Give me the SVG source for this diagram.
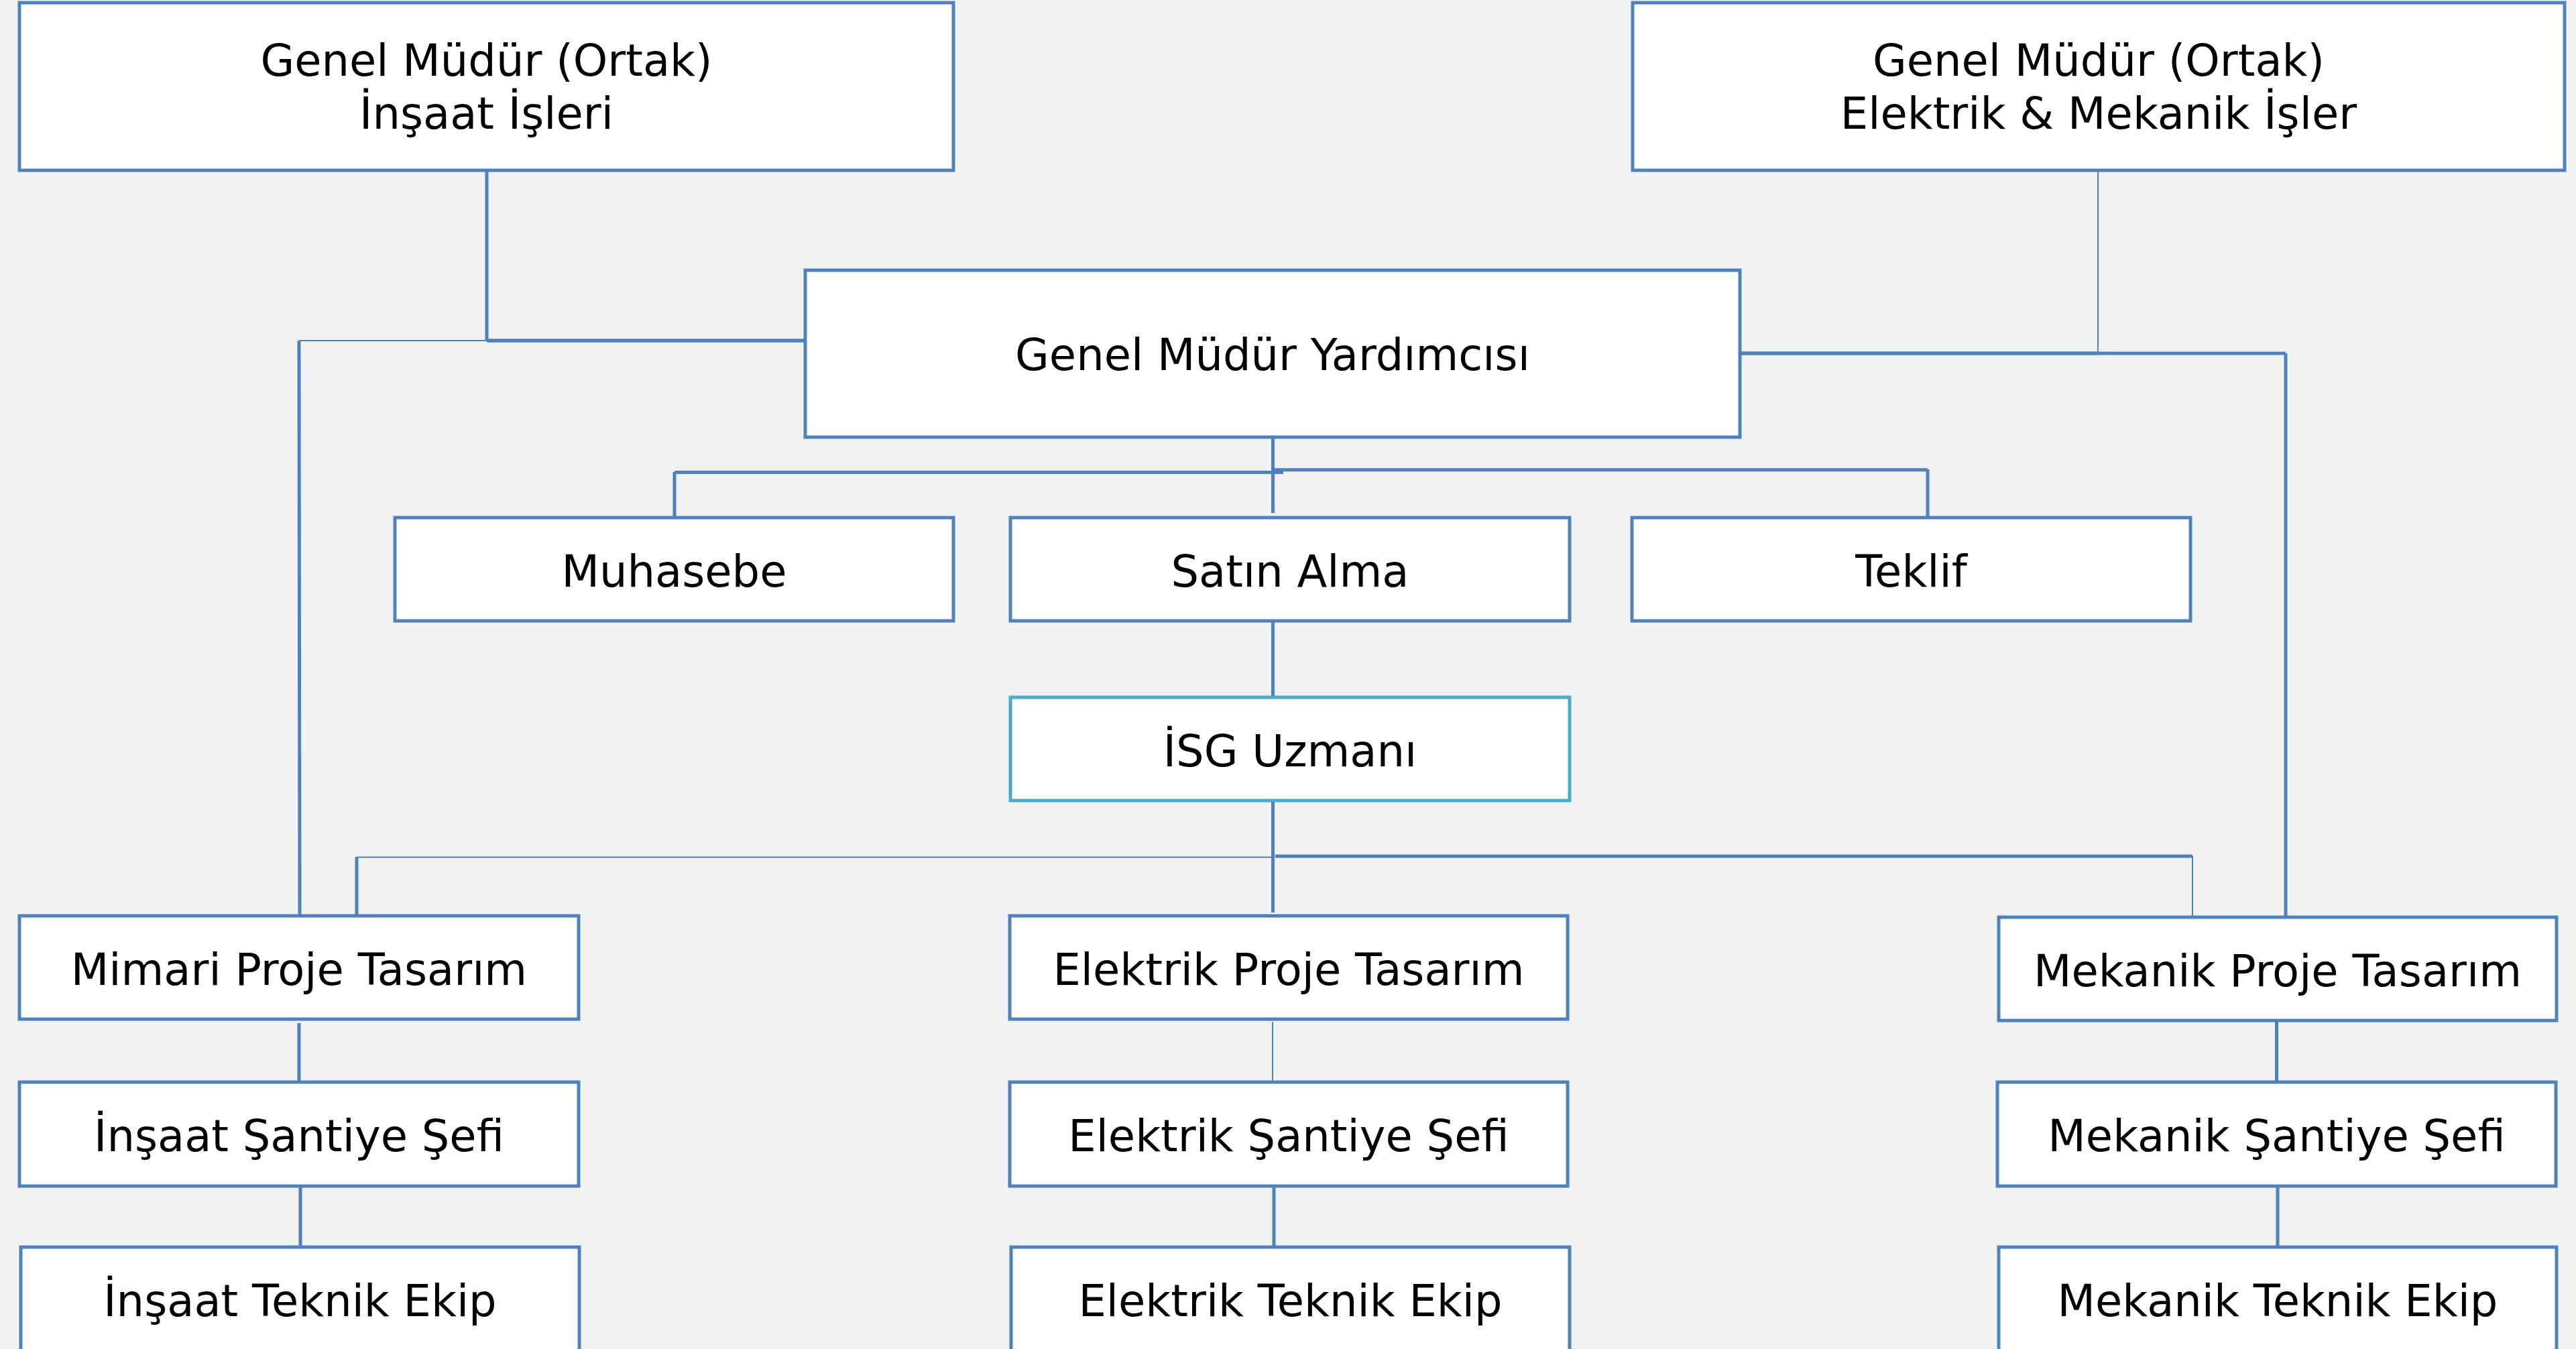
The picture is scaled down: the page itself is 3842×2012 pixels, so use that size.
<svg xmlns="http://www.w3.org/2000/svg" width="3842" height="2012" viewBox="0 0 3842 2012">
<style>
.box{fill:#FFFFFF;stroke:#4F81BD;stroke-width:5}
.isg{fill:#FFFFFF;stroke:#4BACC6;stroke-width:5}
.t{font-family:"DejaVu Sans","Verdana","Liberation Sans",sans-serif;font-size:65.5px;fill:#000000;text-anchor:middle}
.c{fill:none;stroke:#4F81BD}
.thick{stroke-width:5.5}
.mid{stroke-width:5}
.thin{stroke-width:2}
</style>
<rect x="0" y="0" width="3842" height="2012" fill="#F2F2F2"/>
<g id="connectors">
<line class="c mid" x1="726" y1="254" x2="726" y2="508"/>
<line class="c thick" x1="726" y1="508" x2="1201" y2="508"/>
<line class="c thin" x1="446" y1="508" x2="726" y2="508"/>
<line class="c mid" x1="446" y1="508" x2="447" y2="1366"/>
<line class="c thin" x1="3129" y1="254" x2="3129" y2="527"/>
<line class="c thick" x1="2595" y1="527" x2="3129" y2="527"/>
<line class="c mid" x1="3129" y1="527" x2="3409" y2="527"/>
<line class="c mid" x1="3409" y1="527" x2="3409" y2="1368"/>
<line class="c mid" x1="1898.5" y1="652" x2="1898.5" y2="765"/>
<line class="c mid" x1="1006" y1="704.5" x2="1914" y2="704.5"/>
<line class="c mid" x1="1006" y1="704" x2="1006" y2="772"/>
<line class="c mid" x1="1898" y1="700.8" x2="2875" y2="700.8"/>
<line class="c mid" x1="2875" y1="700" x2="2875" y2="772"/>
<line class="c mid" x1="1898.5" y1="926" x2="1898.5" y2="1040"/>
<line class="c mid" x1="1898.5" y1="1194" x2="1898.5" y2="1361"/>
<line class="c thin" x1="532" y1="1278.5" x2="1898" y2="1278.5"/>
<line class="c mid" x1="532" y1="1278" x2="532" y2="1366"/>
<line class="c mid" x1="1902" y1="1277" x2="3270" y2="1277"/>
<line class="c thin" x1="3270" y1="1277" x2="3270" y2="1368"/>
<line class="c mid" x1="446" y1="1526" x2="446" y2="1619"/>
<line class="c mid" x1="448" y1="1769" x2="448" y2="1867"/>
<line class="c thin" x1="1898" y1="1524" x2="1898" y2="1618"/>
<line class="c mid" x1="1900" y1="1769" x2="1900" y2="1866"/>
<line class="c mid" x1="3395.5" y1="1522" x2="3395.5" y2="1615"/>
<line class="c mid" x1="3397" y1="1769" x2="3397" y2="1860"/>
</g>
<g id="gm-insaat">
<rect class="box" x="29" y="4" width="1393" height="250"/>
<text class="t" x="725.5" y="113">Genel Müdür (Ortak)</text>
<text class="t" x="725.5" y="192">İnşaat İşleri</text>
</g>
<g id="gm-elektrik-mekanik">
<rect class="box" x="2435" y="4" width="1390" height="250"/>
<text class="t" x="3130" y="113">Genel Müdür (Ortak)</text>
<text class="t" x="3130" y="192">Elektrik &amp; Mekanik İşler</text>
</g>
<g id="gm-yardimcisi">
<rect class="box" x="1201" y="403" width="1394" height="249"/>
<text class="t" x="1898" y="552">Genel Müdür Yardımcısı</text>
</g>
<g id="muhasebe">
<rect class="box" x="589" y="772" width="833" height="154"/>
<text class="t" x="1005.5" y="875">Muhasebe</text>
</g>
<g id="satin-alma">
<rect class="box" x="1507" y="772" width="834" height="154"/>
<text class="t" x="1924" y="875">Satın Alma</text>
</g>
<g id="teklif">
<rect class="box" x="2434" y="772" width="833" height="154"/>
<text class="t" x="2850.5" y="875">Teklif</text>
</g>
<g id="isg-uzmani">
<rect class="isg" x="1507" y="1040" width="834" height="154"/>
<text class="t" x="1924" y="1143">İSG Uzmanı</text>
</g>
<g id="mimari-proje">
<rect class="box" x="29" y="1366" width="834" height="154"/>
<text class="t" x="446" y="1469">Mimari Proje Tasarım</text>
</g>
<g id="elektrik-proje">
<rect class="box" x="1506" y="1366" width="832" height="154"/>
<text class="t" x="1922" y="1469">Elektrik Proje Tasarım</text>
</g>
<g id="mekanik-proje">
<rect class="box" x="2981" y="1368" width="832" height="154"/>
<text class="t" x="3397" y="1471">Mekanik Proje Tasarım</text>
</g>
<g id="insaat-santiye">
<rect class="box" x="29" y="1614" width="834" height="155"/>
<text class="t" x="446" y="1717">İnşaat Şantiye Şefi</text>
</g>
<g id="elektrik-santiye">
<rect class="box" x="1506" y="1614" width="832" height="155"/>
<text class="t" x="1922" y="1717">Elektrik Şantiye Şefi</text>
</g>
<g id="mekanik-santiye">
<rect class="box" x="2979" y="1614" width="833" height="155"/>
<text class="t" x="3395.5" y="1717">Mekanik Şantiye Şefi</text>
</g>
<g id="insaat-teknik">
<rect class="box" x="31" y="1860" width="833" height="170"/>
<text class="t" x="447.5" y="1963">İnşaat Teknik Ekip</text>
</g>
<g id="elektrik-teknik">
<rect class="box" x="1508" y="1860" width="833" height="170"/>
<text class="t" x="1924.5" y="1963">Elektrik Teknik Ekip</text>
</g>
<g id="mekanik-teknik">
<rect class="box" x="2981" y="1860" width="832" height="170"/>
<text class="t" x="3397" y="1963">Mekanik Teknik Ekip</text>
</g>
</svg>
